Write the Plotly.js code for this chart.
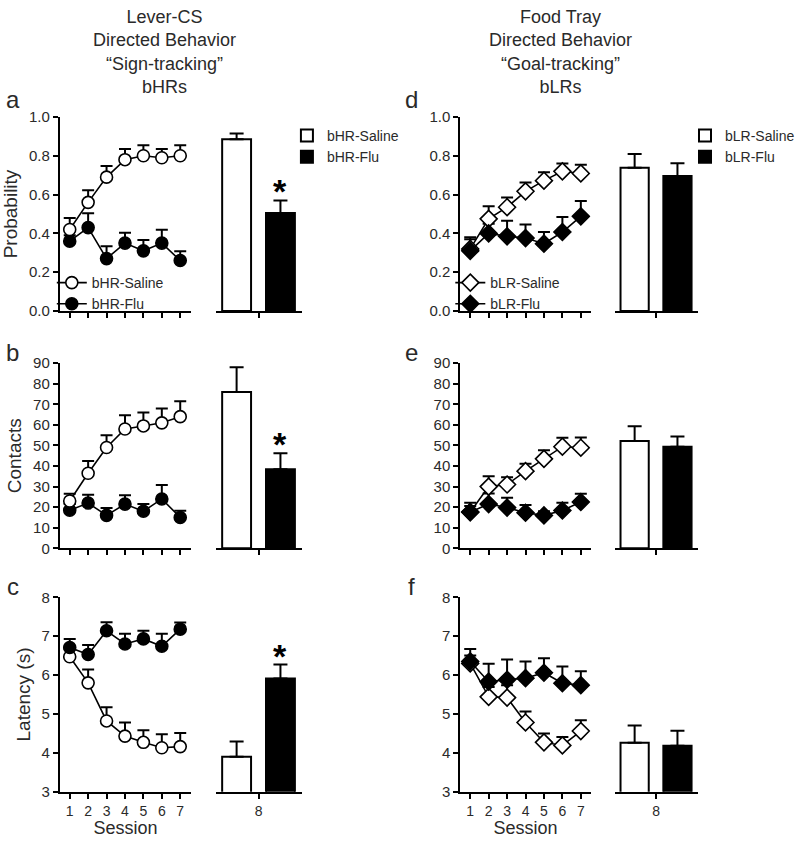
<!DOCTYPE html>
<html>
<head>
<meta charset="utf-8">
<script src="https://cdn.plot.ly/plotly-3.0.1.min.js"></script>
<style>html,body{margin:0;padding:0;background:#fff}#chart{width:800px;height:842px}</style>
</head>
<body>
<div id="chart"></div>
<script>
// ---------- data ----------
const sessions = [1, 2, 3, 4, 5, 6, 7];
const barSession = [8];

// Panel a: Lever-CS probability (bHR)
const aSalineMean = [0.42, 0.56, 0.69, 0.78, 0.80, 0.79, 0.80];
const aSalineErr  = [0.06, 0.063, 0.058, 0.055, 0.054, 0.045, 0.054];
const aFluMean    = [0.36, 0.43, 0.27, 0.35, 0.31, 0.35, 0.26];
const aFluErr     = [0.03, 0.074, 0.064, 0.053, 0.056, 0.069, 0.048];
const aBarMean    = [0.885, 0.505];
const aBarErr     = [0.03, 0.065];

// Panel b: Lever-CS contacts (bHR)
const bSalineMean = [23, 36.5, 49, 58, 59.5, 61, 64];
const bSalineErr  = [3.5, 6, 6, 6.7, 6.5, 7, 7.5];
const bFluMean    = [18.5, 22, 16, 21.5, 18, 24, 15];
const bFluErr     = [3, 4, 3.6, 4.3, 3.5, 6.8, 3.3];
const bBarMean    = [76, 38.4];
const bBarErr     = [12, 7.8];

// Panel c: Lever-CS latency (bHR)
const cSalineMean = [6.47, 5.80, 4.82, 4.43, 4.27, 4.13, 4.16];
const cSalineErr  = [0.2, 0.34, 0.35, 0.35, 0.31, 0.35, 0.35];
const cFluMean    = [6.71, 6.53, 7.14, 6.80, 6.93, 6.74, 7.18];
const cFluErr     = [0.22, 0.24, 0.22, 0.26, 0.21, 0.32, 0.17];
const cBarMean    = [3.9, 5.91];
const cBarErr     = [0.39, 0.36];

// Panel d: Food tray probability (bLR)
const dSalineMean = [0.32, 0.475, 0.535, 0.617, 0.672, 0.72, 0.709];
const dSalineErr  = [0.06, 0.065, 0.05, 0.045, 0.043, 0.04, 0.045];
const dFluMean    = [0.31, 0.40, 0.385, 0.376, 0.347, 0.407, 0.488];
const dFluErr     = [0.06, 0.05, 0.08, 0.07, 0.06, 0.077, 0.079];
const dBarMean    = [0.739, 0.696];
const dBarErr     = [0.07, 0.065];

// Panel e: Food tray contacts (bLR)
const eSalineMean = [17.6, 30, 31, 37.5, 43.5, 49.4, 48.9];
const eSalineErr  = [4.5, 5, 3.6, 3.6, 4.2, 4.3, 5];
const eFluMean    = [17.6, 21.5, 19.8, 17.3, 16, 18.4, 22.5];
const eFluErr     = [3, 5.2, 4.8, 3.7, 2, 3.8, 4];
const eBarMean    = [52.2, 49.4];
const eBarErr     = [7.1, 4.9];

// Panel f: Food tray latency (bLR)
const fSalineMean = [6.3, 5.44, 5.42, 4.78, 4.27, 4.19, 4.56];
const fSalineErr  = [0.2, 0.25, 0.32, 0.28, 0.23, 0.22, 0.28];
const fFluMean    = [6.35, 5.83, 5.88, 5.92, 6.06, 5.79, 5.74];
const fFluErr     = [0.32, 0.46, 0.52, 0.43, 0.37, 0.43, 0.36];
const fBarMean    = [4.26, 4.18];
const fBarErr     = [0.44, 0.39];

const hrNames = ['bHR-Saline', 'bHR-Flu'];
const lrNames = ['bLR-Saline', 'bLR-Flu'];
const yTitles = ['Probability', 'Contacts', 'Latency (s)'];
const panelLetters = ['a', 'b', 'c', 'd', 'e', 'f'];
const leftTitle = ['Lever-CS', 'Directed Behavior', '\u201cSign-tracking\u201d', 'bHRs'];
const rightTitle = ['Food Tray', 'Directed Behavior', '\u201cGoal-tracking\u201d', 'bLRs'];
const sessionTitle = 'Session';

// ---------- construction ----------
const FONT = 'Liberation Sans, Arial, sans-serif';
const TXT = '#2a2a2a';
const W = 800, H = 842;
const px = v => v / W, py = v => 1 - v / H;

const xDom = [[px(60), px(192)], [px(217), px(303)], [px(462), px(593)], [px(617), px(701)]];
const yDom = [[py(311), py(117)], [py(548.3), py(363.2)], [py(791.7), py(597.3)]];
const yRanges = [[0, 1], [0, 90], [3, 8]];
const yDticks = [0.2, 10, 1];
const yFormats = ['.1f', 'd', 'd'];
const barXRange = [7.5654, 8.4448];

const panels = [
  {row: 0, col: 0, sal: aSalineMean, salE: aSalineErr, flu: aFluMean, fluE: aFluErr, bar: aBarMean, barE: aBarErr, names: hrNames, sym: 'circle', salTop: true, star: true},
  {row: 1, col: 0, sal: bSalineMean, salE: bSalineErr, flu: bFluMean, fluE: bFluErr, bar: bBarMean, barE: bBarErr, names: hrNames, sym: 'circle', salTop: true, star: true},
  {row: 2, col: 0, sal: cSalineMean, salE: cSalineErr, flu: cFluMean, fluE: cFluErr, bar: cBarMean, barE: cBarErr, names: hrNames, sym: 'circle', salTop: false, star: true},
  {row: 0, col: 2, sal: dSalineMean, salE: dSalineErr, flu: dFluMean, fluE: dFluErr, bar: dBarMean, barE: dBarErr, names: lrNames, sym: 'diamond', salTop: false, star: false},
  {row: 1, col: 2, sal: eSalineMean, salE: eSalineErr, flu: eFluMean, fluE: eFluErr, bar: eBarMean, barE: eBarErr, names: lrNames, sym: 'diamond', salTop: false, star: false},
  {row: 2, col: 2, sal: fSalineMean, salE: fSalineErr, flu: fFluMean, fluE: fFluErr, bar: fBarMean, barE: fBarErr, names: lrNames, sym: 'diamond', salTop: false, star: false}
];

const traces = [];
const annotations = [];
const layout = {
  width: W, height: H,
  margin: {l: 0, r: 0, t: 0, b: 0},
  paper_bgcolor: '#fff', plot_bgcolor: 'rgba(0,0,0,0)',
  font: {family: FONT, color: TXT, size: 14},
  barmode: 'group', bargap: 0.1, bargroupgap: 0.341,
  annotations: annotations
};

function axId(row, col) { return row * 4 + col + 1; }
function axName(prefix, n) { return n === 1 ? prefix : prefix + n; }

panels.forEach((p, i) => {
  const nl = axId(p.row, p.col), nb = axId(p.row, p.col + 1);
  const xl = axName('x', nl), yl = axName('y', nl), xb = axName('x', nb), yb = axName('y', nb);
  const legendLine = p.row === 0 ? (p.col === 0 ? 'legend' : 'legend3') : null;
  const legendBar = p.row === 0 ? (p.col === 0 ? 'legend2' : 'legend4') : null;
  const msize = p.sym === 'circle' ? 12 : 13;
  const bottom = p.row === 2;

  [[p.sal, p.salE], [p.flu, p.fluE]].forEach(([m, e]) => {
    traces.push({
      type: 'scatter', mode: 'markers', x: sessions, y: m, xaxis: xl, yaxis: yl,
      marker: {size: 1, color: 'rgba(0,0,0,0)'}, showlegend: false, hoverinfo: 'skip',
      error_y: {type: 'data', array: e, arrayminus: e.map(() => 0), symmetric: false, color: '#000', thickness: 2, width: 6}
    });
  });
  const salTrace = {
    type: 'scatter', mode: 'lines+markers', name: p.names[0], x: sessions, y: p.sal, xaxis: xl, yaxis: yl,
    line: {color: '#000', width: 1.6},
    marker: {symbol: p.sym, size: msize, color: '#fff', line: {color: '#000', width: 1.6}},
    showlegend: !!legendLine, legend: legendLine || 'legend', legendrank: 1
  };
  const fluTrace = {
    type: 'scatter', mode: 'lines+markers', name: p.names[1], x: sessions, y: p.flu, xaxis: xl, yaxis: yl,
    line: {color: '#000', width: 1.6},
    marker: {symbol: p.sym, size: msize, color: '#000', line: {color: '#000', width: 1.6}},
    showlegend: !!legendLine, legend: legendLine || 'legend', legendrank: 2
  };
  if (p.salTop) { traces.push(fluTrace, salTrace); } else { traces.push(salTrace, fluTrace); }

  [0, 1].forEach(k => {
    traces.push({
      type: 'bar', name: p.names[k], x: barSession, y: [p.bar[k]], xaxis: xb, yaxis: yb,
      marker: {color: k === 0 ? '#fff' : '#000', line: {color: '#000', width: 2}},
      error_y: {type: 'data', array: [p.barE[k]], arrayminus: [0], symmetric: false, color: '#000', thickness: 2, width: 7},
      showlegend: !!legendBar, legend: legendBar || 'legend', legendrank: k + 1, offsetgroup: String(k)
    });
  });

  const common = {showgrid: false, zeroline: false, showline: true, linecolor: '#000', linewidth: 2,
                  ticks: 'outside', ticklen: 5, tickwidth: 2, tickcolor: '#000',
                  tickfont: {family: FONT, size: 15, color: TXT}};
  layout[axName('xaxis', nl)] = Object.assign({}, common, {
    domain: xDom[p.col], anchor: yl, range: p.col === 0 ? [0.46, 7.6] : [0.46, 7.54],
    tickmode: 'array', tickvals: sessions, ticktext: sessions.map(String), showticklabels: bottom,
    tickfont: {family: FONT, size: 14, color: TXT},
    title: bottom ? {text: sessionTitle, font: {family: FONT, size: 18, color: TXT}, standoff: 2} : {text: ''}
  });
  layout[axName('yaxis', nl)] = Object.assign({}, common, {
    domain: yDom[p.row], anchor: xl, range: yRanges[p.row], dtick: yDticks[p.row], tick0: 0,
    tickformat: yFormats[p.row],
    title: p.col === 0 ? {text: yTitles[p.row], font: {family: FONT, size: 19, color: TXT}, standoff: 6} : {text: ''}
  });
  layout[axName('xaxis', nb)] = Object.assign({}, common, {
    domain: xDom[p.col + 1], anchor: yb, range: barXRange,
    tickmode: 'array', tickvals: barSession, ticktext: barSession.map(String), showticklabels: bottom,
    tickfont: {family: FONT, size: 14, color: TXT}
  });
  layout[axName('yaxis', nb)] = {domain: yDom[p.row], anchor: xb, range: yRanges[p.row], visible: false, fixedrange: true};

  if (p.star) {
    annotations.push({xref: xb, yref: yb, x: barSession[0] + 0.225, y: p.bar[1] + p.barE[1],
      text: '<b>*</b>', showarrow: false, yanchor: 'middle', yshift: 9,
      font: {family: FONT, size: 34, color: '#000'}});
  }
  const letterY = [100, 352, 586][p.row];
  const letterX = p.col === 0 ? 13 : 413;
  annotations.push({xref: 'paper', yref: 'paper', x: px(letterX), y: py(letterY), text: panelLetters[i],
    showarrow: false, xanchor: 'center', yanchor: 'middle', font: {family: FONT, size: 24, color: TXT}});
});

annotations.push({xref: 'paper', yref: 'paper', x: px(165), y: py(52), text: leftTitle.join('<br>'),
  showarrow: false, xanchor: 'center', yanchor: 'middle', font: {family: FONT, size: 18, color: TXT}});
annotations.push({xref: 'paper', yref: 'paper', x: px(563), y: py(52), text: rightTitle.join('<br>'),
  showarrow: false, xanchor: 'center', yanchor: 'middle', font: {family: FONT, size: 18, color: TXT}});

const legBase = {bgcolor: 'rgba(0,0,0,0)', borderwidth: 0, font: {family: FONT, size: 14, color: TXT},
                 xanchor: 'left', yanchor: 'top', traceorder: 'normal', tracegroupgap: 0};
layout.legend  = Object.assign({}, legBase, {x: px(52),  y: py(267)});
layout.legend2 = Object.assign({}, legBase, {x: px(288), y: py(120)});
layout.legend3 = Object.assign({}, legBase, {x: px(452), y: py(267)});
layout.legend4 = Object.assign({}, legBase, {x: px(688), y: py(120)});

Plotly.newPlot('chart', traces, layout, {displayModeBar: false, staticPlot: true});
</script>
</body>
</html>
